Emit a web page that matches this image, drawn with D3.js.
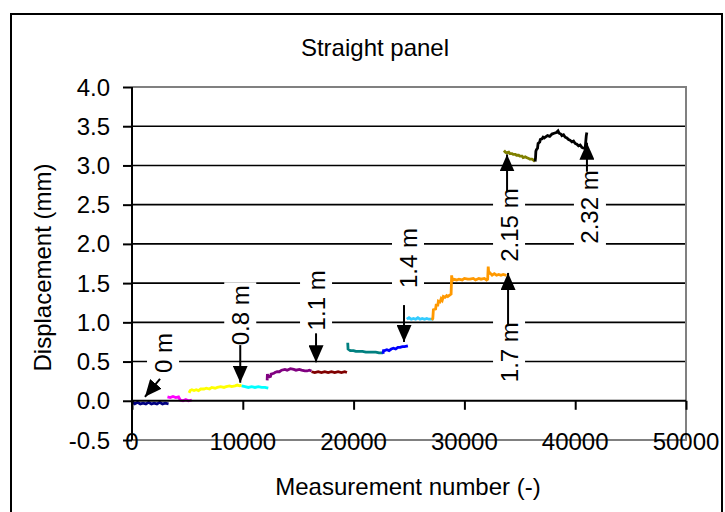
<!DOCTYPE html>
<html><head><meta charset="utf-8">
<script src="https://cdn.jsdelivr.net/npm/d3@7"></script>
<style>body{margin:0;background:#fff}text{font-family:"Liberation Sans",Arial,sans-serif}</style>
</head><body><svg id="c" width="725" height="512"></svg>
<script>
// ---- data ----
const xTicks = [0, 10000, 20000, 30000, 40000, 50000];
const yTicks = [-0.5, 0, 0.5, 1, 1.5, 2, 2.5, 3, 3.5, 4];
const yTickLabels = ["-0.5","0.0","0.5","1.0","1.5","2.0","2.5","3.0","3.5","4.0"];
const gridValues = [0.5, 1, 1.5, 2, 2.5, 3, 3.5];

const navyX = [0,250,500,750,1000,1250,1500,1750,2000,2250,2500,2750,3000,3300];
const navyY = [-0.01,-0.04,-0.02,-0.04,-0.03,-0.04,-0.02,-0.04,-0.03,-0.04,-0.02,-0.04,-0.03,-0.04];
const magentaX = [3200,3450,3700,3950,4200,4350,4600,4850,5100,5400];
const magentaY = [0.05,0.04,0.055,0.04,0.05,0.01,0.0,0.015,0.0,0.01];
const yellowX = [5150,5250,5400,5600,5800,6000,6200,6500,6700,7000,7200,7500,7700,8000,8300,8500,8800,9000,9300,9500,9700,9900];
const yellowY = [0.10,0.13,0.14,0.13,0.14,0.13,0.15,0.15,0.16,0.15,0.17,0.16,0.17,0.18,0.17,0.18,0.19,0.18,0.19,0.20,0.19,0.20];
const cyan1X = [9900,10200,10500,10800,11100,11400,11700,12000,12300];
const cyan1Y = [0.19,0.18,0.17,0.18,0.17,0.18,0.17,0.17,0.16];
const purpleX = [12200,12220,12300,12500,12550,12800,12900,13100,13300,13500,13800,14000,14300,14600,14800,15100,15300,15600,15800,16000,16200];
const purpleY = [0.26,0.34,0.30,0.31,0.34,0.35,0.36,0.37,0.37,0.39,0.40,0.39,0.41,0.40,0.39,0.40,0.39,0.38,0.38,0.39,0.38];
const darkredX = [16200,16500,16800,17100,17400,17700,18000,18300,18600,18900,19200,19400];
const darkredY = [0.37,0.36,0.37,0.36,0.37,0.36,0.37,0.36,0.37,0.36,0.37,0.36];
const tealX = [19470,19500,19700,20000,20200,20500,20800,21100,21400,21700,22000,22300,22650];
const tealY = [0.74,0.66,0.64,0.64,0.63,0.63,0.63,0.62,0.62,0.62,0.62,0.61,0.61];
const blueX = [22650,22700,22800,23000,23200,23400,23600,23800,24000,24200,24400,24600,24900];
const blueY = [0.60,0.64,0.64,0.65,0.64,0.66,0.67,0.66,0.68,0.68,0.69,0.69,0.70];
const cyan2X = [24800,25000,25200,25400,25600,25800,26000,26200,26400,26600,26800,27000,27200];
const cyan2Y = [1.04,1.06,1.04,1.05,1.04,1.06,1.04,1.05,1.04,1.05,1.04,1.04,1.04];
const orangeX = [27050,27150,27200,27400,27450,27600,27650,27800,27900,28000,28100,28250,28400,28500,28700,28800,28850,28900,29000,29300,29500,29800,30000,30300,30500,30800,31000,31300,31500,31800,32000,32100,32150,32200,32300,32500,32700,32900,33100,33300,33500,33800];
const orangeY = [1.03,1.05,1.16,1.17,1.22,1.22,1.27,1.26,1.30,1.28,1.33,1.32,1.34,1.33,1.35,1.36,1.60,1.53,1.55,1.54,1.55,1.54,1.56,1.55,1.55,1.56,1.54,1.56,1.55,1.56,1.54,1.55,1.71,1.62,1.63,1.60,1.62,1.60,1.61,1.60,1.61,1.60];
const oliveX = [33570,33700,33800,34000,34100,34300,34400,34600,34700,34900,35000,35200,35300,35500,35600,35800,35900,36100,36200,36370];
const oliveY = [3.19,3.17,3.16,3.17,3.15,3.15,3.14,3.14,3.13,3.13,3.12,3.12,3.10,3.11,3.10,3.09,3.08,3.08,3.07,3.05];
const blackX = [36380,36420,36450,36500,36600,36650,36800,36850,37000,37100,37200,37400,37500,37700,37900,38100,38300,38450,38550,38700,38800,38950,39100,39250,39400,39550,39700,39850,40000,40150,40300,40450,40600,40750,40900,40950,41000,41050];
const blackY = [3.05,3.10,3.18,3.20,3.22,3.28,3.30,3.33,3.34,3.36,3.35,3.37,3.38,3.37,3.40,3.41,3.42,3.44,3.41,3.40,3.38,3.39,3.36,3.35,3.33,3.32,3.30,3.31,3.28,3.27,3.25,3.26,3.23,3.22,3.22,3.30,3.38,3.42];

const seriesX = [navyX, magentaX, yellowX, cyan1X, purpleX, darkredX, tealX, blueX, cyan2X, orangeX, oliveX, blackX];
const seriesY = [navyY, magentaY, yellowY, cyan1Y, purpleY, darkredY, tealY, blueY, cyan2Y, orangeY, oliveY, blackY];
const seriesColors = ["#000080","#FF00FF","#FFFF00","#00FFFF","#800080","#800000","#008080","#0000FF","#33CCFF","#FF9900","#808000","#000000"];

// annotation labels, with text centre, arrow tail and arrow tip in data units
const annLabels = ["0 m","0.8 m","1.1 m","1.4 m","1.7 m","2.15 m","2.32 m"];
const annTextX = [2800, 9770, 16610, 24910, 34030, 34030, 41330];
const annTextY = [0.61, 1.09, 1.28, 1.82, 0.62, 2.24, 2.47];
const annTailX = [2530, 9770, 16610, 24550, 33940, 33850, 41060];
const annTailY = [0.28, 0.71, 0.86, 1.22, 0.97, 2.66, 2.92];
const annTipX  = [1170, 9770, 16610, 24550, 33940, 33850, 41060];
const annTipY  = [0.05, 0.23, 0.49, 0.75, 1.63, 3.14, 3.29];

// ---- layout ----
const L = 132, R = 686, T = 87, B = 440;
const FS = 24;
const svg = d3.select("#c");
const x = d3.scaleLinear().domain([0, 50000]).range([L, R]);
const y = d3.scaleLinear().domain([-0.5, 4]).range([B, T]);

// outer frame
svg.append("rect").attr("x", 11).attr("y", 14).attr("width", 711).attr("height", 520)
  .attr("fill", "#fff").attr("stroke", "#000").attr("stroke-width", 2);

// title
svg.append("text").attr("x", 375).attr("y", 47).attr("text-anchor", "middle")
  .attr("dominant-baseline", "central").attr("font-size", FS).text("Straight panel");

// gridlines
svg.append("g").selectAll("line").data(gridValues).join("line")
  .attr("x1", L).attr("x2", R).attr("y1", d => y(d)).attr("y2", d => y(d))
  .attr("stroke", "#000").attr("stroke-width", 1.6);

// plot border (grey)
svg.append("path")
  .attr("d", `M${L},${y(4)}H${x(50000)}V${y(-0.5)}H${L}`)
  .attr("fill", "none").attr("stroke", "#808080").attr("stroke-width", 2);

// annotation text boxes (white) and text
const annG = svg.append("g");
annLabels.forEach((t, i) => {
  const tx = x(annTextX[i]), ty = y(annTextY[i]);
  const txt = annG.append("text")
    .attr("transform", `translate(${tx},${ty}) rotate(-90)`)
    .attr("text-anchor", "middle").attr("dominant-baseline", "central")
    .attr("font-size", FS).text(t);
  const w = txt.node().getComputedTextLength();
  annG.insert("rect", "text")
    .attr("x", tx - 16).attr("y", ty - w / 2 - 3).attr("width", 32).attr("height", w + 6)
    .attr("fill", "#fff");
});

// series
const line = d3.line().x(d => x(d[0])).y(d => y(d[1]));
seriesX.forEach((xs, i) => {
  const pts = xs.map((v, j) => [v, seriesY[i][j]]);
  svg.append("path").datum(pts).attr("d", line)
    .attr("fill", "none").attr("stroke", seriesColors[i])
    .attr("stroke-width", 2.8).attr("stroke-linejoin", "miter");
});

// arrows
svg.append("defs").append("marker").attr("id", "ah")
  .attr("viewBox", "0 0 17 15").attr("refX", 17).attr("refY", 7.5)
  .attr("markerWidth", 17).attr("markerHeight", 15).attr("markerUnits", "userSpaceOnUse")
  .attr("orient", "auto")
  .append("path").attr("d", "M0,0L17,7.5L0,15Z").attr("fill", "#000");
annLabels.forEach((t, i) => {
  svg.append("line")
    .attr("x1", x(annTailX[i])).attr("y1", y(annTailY[i]))
    .attr("x2", x(annTipX[i])).attr("y2", y(annTipY[i]))
    .attr("stroke", "#000").attr("stroke-width", 2).attr("marker-end", "url(#ah)");
});

// x axis at y = 0
const xAxisG = svg.append("g").attr("transform", `translate(0,${y(0)})`);
xAxisG.call(d3.axisBottom(x).tickValues(xTicks).tickSize(9).tickFormat(""));
xAxisG.select(".domain").attr("stroke", "#000").attr("stroke-width", 2).attr("d", `M${L},0H${R}`);
xAxisG.selectAll(".tick line").attr("stroke", "#000").attr("stroke-width", 2);
svg.append("g").selectAll("text").data(xTicks).join("text")
  .attr("x", d => x(d)).attr("y", y(-0.5) + 1).attr("text-anchor", "middle")
  .attr("dominant-baseline", "central").attr("font-size", FS).text(d => d);

// y axis
const yAxisG = svg.append("g").attr("transform", `translate(${L},0)`);
yAxisG.call(d3.axisLeft(y).tickValues(yTicks).tickSize(9).tickFormat(""));
yAxisG.select(".domain").attr("stroke", "#000").attr("stroke-width", 2).attr("d", `M0,${T}V${B}`);
yAxisG.selectAll(".tick line").attr("stroke", "#000").attr("stroke-width", 2);
svg.append("g").selectAll("text").data(yTicks).join("text")
  .attr("x", 110).attr("y", d => y(d)).attr("text-anchor", "end")
  .attr("dominant-baseline", "central").attr("font-size", FS).text((d, i) => yTickLabels[i]);

// axis titles
svg.append("text").attr("x", 408).attr("y", 486).attr("text-anchor", "middle")
  .attr("dominant-baseline", "central").attr("font-size", FS).text("Measurement number (-)");
svg.append("text").attr("transform", `translate(42,${(T + B) / 2 + 4}) rotate(-90)`)
  .attr("text-anchor", "middle").attr("dominant-baseline", "central")
  .attr("font-size", FS).text("Displacement (mm)");
</script></body></html>
